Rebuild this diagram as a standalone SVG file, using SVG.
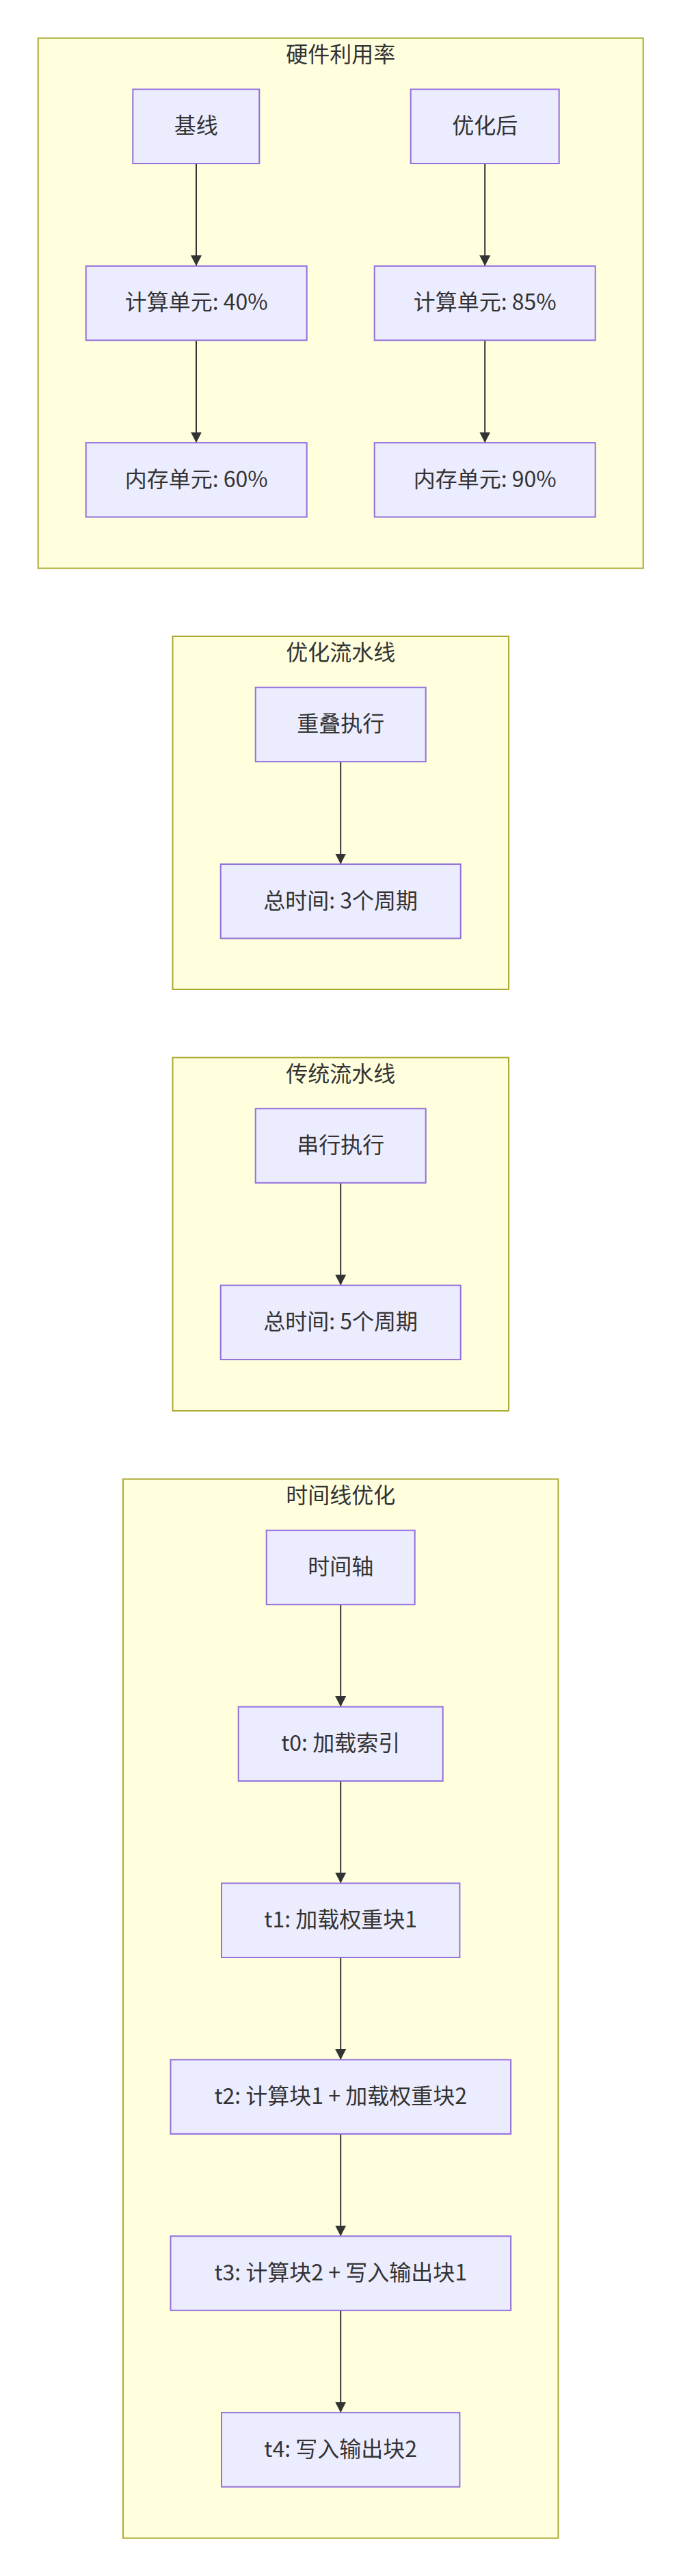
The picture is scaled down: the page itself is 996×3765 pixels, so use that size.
<svg xmlns="http://www.w3.org/2000/svg" width="996" height="3765" viewBox="0 0 996 3765">
<style>
.cluster{fill:#ffffde;stroke:#aaaa33;stroke-width:2}
.node rect{fill:#ececff;stroke:#9370db;stroke-width:2}
text{font-family:"Noto Sans CJK SC","Noto Sans",sans-serif;font-size:32px;fill:#333333;text-anchor:middle}
.edge{stroke:#333333;stroke-width:2;fill:none;marker-end:url(#arrow)}
</style>
<defs>
<marker id="arrow" viewBox="0 0 10 10" refX="10" refY="5" markerWidth="15.5" markerHeight="16" markerUnits="userSpaceOnUse" orient="auto" preserveAspectRatio="none">
<path d="M0,0 L10,5 L0,10 z" fill="#333333"/>
</marker>
</defs>
<rect width="996" height="3765" fill="#ffffff"/>

<g id="cluster-hw">
<rect class="cluster" x="55.7" y="55.7" width="885" height="774.9"/>
<text x="498.2" y="90.5">硬件利用率</text>
</g>
<g id="cluster-opt">
<rect class="cluster" x="252.5" y="930" width="491.5" height="516"/>
<text x="498.2" y="964.8">优化流水线</text>
</g>
<g id="cluster-trad">
<rect class="cluster" x="252.5" y="1545.7" width="491.5" height="516.3"/>
<text x="498.2" y="1580.5">传统流水线</text>
</g>
<g id="cluster-timeline">
<rect class="cluster" x="180" y="2161.7" width="636.5" height="1548"/>
<text x="498.2" y="2196.5">时间线优化</text>
</g>

<g id="connectors">
<path class="edge" d="M287,239 L287,388.8"/>
<path class="edge" d="M287,497.3 L287,647.1"/>
<path class="edge" d="M709.2,239 L709.2,388.8"/>
<path class="edge" d="M709.2,497.3 L709.2,647.1"/>
<path class="edge" d="M498.2,1113.2 L498.2,1263"/>
<path class="edge" d="M498.2,1728.8 L498.2,1878.6"/>
<path class="edge" d="M498.2,2345.2 L498.2,2494.6"/>
<path class="edge" d="M498.2,2603.1 L498.2,2752.5"/>
<path class="edge" d="M498.2,2861 L498.2,3010.4"/>
<path class="edge" d="M498.2,3118.9 L498.2,3268.3"/>
<path class="edge" d="M498.2,3376.8 L498.2,3526.2"/>
</g>

<g id="node-baseline" class="node">
<rect x="194.3" y="130.5" width="185" height="108.5"/>
<text x="286.8" y="195.2">基线</text>
</g>
<g id="node-optimized" class="node">
<rect x="600.7" y="130.5" width="217" height="108.5"/>
<text x="709.2" y="195.2">优化后</text>
</g>
<g id="node-compute40" class="node">
<rect x="125.7" y="388.8" width="323" height="108.5"/>
<text x="287.2" y="453.4">计算单元: 40%</text>
</g>
<g id="node-compute85" class="node">
<rect x="547.7" y="388.8" width="323" height="108.5"/>
<text x="709.2" y="453.4">计算单元: 85%</text>
</g>
<g id="node-mem60" class="node">
<rect x="125.7" y="647.1" width="323" height="108.5"/>
<text x="287.2" y="711.8">内存单元: 60%</text>
</g>
<g id="node-mem90" class="node">
<rect x="547.7" y="647.1" width="323" height="108.5"/>
<text x="709.2" y="711.8">内存单元: 90%</text>
</g>

<g id="node-overlap" class="node">
<rect x="373.7" y="1004.7" width="249" height="108.5"/>
<text x="498.2" y="1069.4">重叠执行</text>
</g>
<g id="node-total3" class="node">
<rect x="322.7" y="1263" width="351" height="108.5"/>
<text x="498.2" y="1327.7">总时间: 3个周期</text>
</g>

<g id="node-serial" class="node">
<rect x="373.7" y="1620.3" width="249" height="108.5"/>
<text x="498.2" y="1685">串行执行</text>
</g>
<g id="node-total5" class="node">
<rect x="322.7" y="1878.6" width="351" height="108.5"/>
<text x="498.2" y="1943.3">总时间: 5个周期</text>
</g>

<g id="node-axis" class="node">
<rect x="389.7" y="2236.7" width="217" height="108.5"/>
<text x="498.2" y="2301.4">时间轴</text>
</g>
<g id="node-t0" class="node">
<rect x="348.7" y="2494.6" width="299" height="108.5"/>
<text x="498.2" y="2559.3">t0: 加载索引</text>
</g>
<g id="node-t1" class="node">
<rect x="324" y="2752.5" width="348.4" height="108.5"/>
<text x="498.2" y="2817.2">t1: 加载权重块1</text>
</g>
<g id="node-t2" class="node">
<rect x="249.5" y="3010.4" width="497.6" height="108.5"/>
<text x="498.2" y="3075.1">t2: 计算块1 + 加载权重块2</text>
</g>
<g id="node-t3" class="node">
<rect x="249.5" y="3268.3" width="497.6" height="108.5"/>
<text x="498.2" y="3333">t3: 计算块2 + 写入输出块1</text>
</g>
<g id="node-t4" class="node">
<rect x="324" y="3526.2" width="348.4" height="108.5"/>
<text x="498.2" y="3590.9">t4: 写入输出块2</text>
</g>
</svg>
